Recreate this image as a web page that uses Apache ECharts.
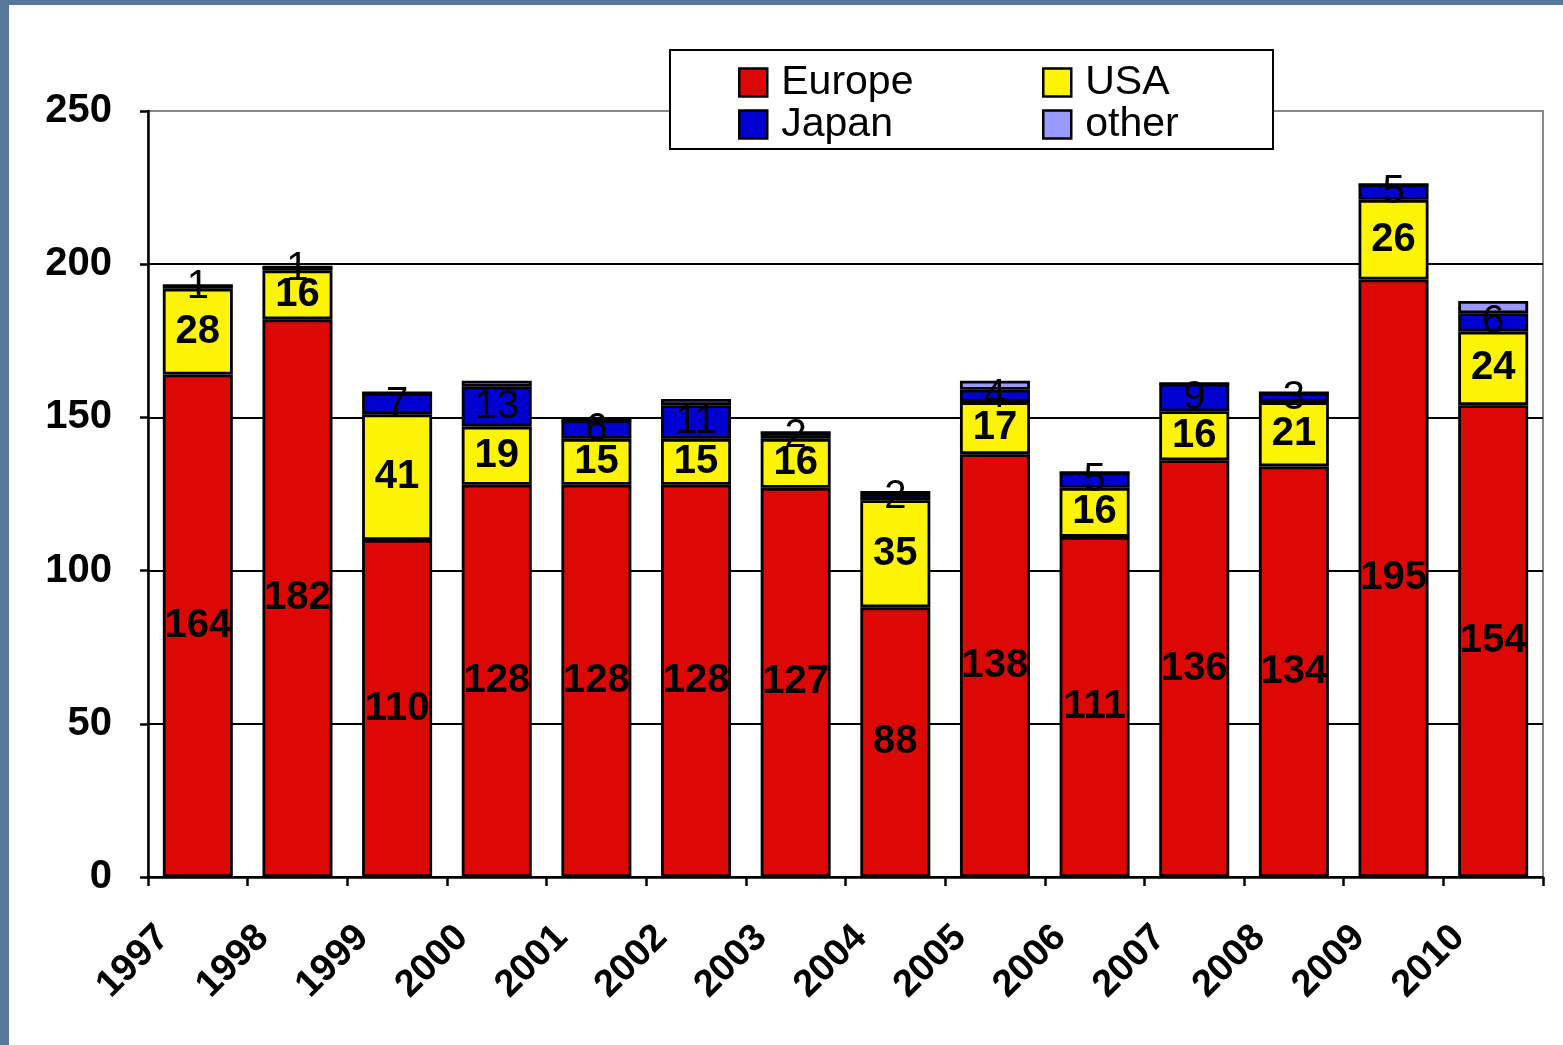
<!DOCTYPE html>
<html>
<head>
<meta charset="utf-8">
<script src="https://cdn.jsdelivr.net/npm/echarts@6/dist/echarts.min.js"></script>
<style>
  html, body { margin: 0; padding: 0; background: #57779f; }
  #paper { position: absolute; left: 9px; top: 5px; right: 0; bottom: 0; background: #fff; }
  #chart { position: absolute; left: 0; top: 0; width: 1563px; height: 1045px; }
</style>
</head>
<body>
<div id="paper"></div>
<div id="chart"></div>
<script>
// data
const years  = ['1997', '1998', '1999', '2000', '2001', '2002', '2003', '2004', '2005', '2006', '2007', '2008', '2009', '2010'];
const europe = [164, 182, 110, 128, 128, 128, 127, 88, 138, 111, 136, 134, 195, 154];
const usa    = [28, 16, 41, 19, 15, 15, 16, 35, 17, 16, 16, 21, 26, 24];
const japan  = [1, 1, 7, 13, 6, 11, 2, 2, 4, 5, 9, 3, 5, 6];
const other  = [0, 0, 0, 2, 0, 2, 0, 1, 3, 0, 0, 0, 0, 4];
const yTicks = [0, 50, 100, 150, 200, 250];

const FONT = '"Liberation Sans", Arial, sans-serif';

function barSeries(name, data, color, label) {
  return {
    name: name, type: 'bar', stack: 'total', data: data,
    barWidth: 70,
    itemStyle: { color: color, borderColor: '#000', borderWidth: 2.8 },
    label: label ? Object.assign({ show: true, position: 'inside', color: '#000', fontFamily: FONT, fontSize: 40 }, label) : { show: false }
  };
}

const chart = echarts.init(document.getElementById('chart'), null, { renderer: 'canvas' });

// two legends side by side so the columns line up like the original
const legendCommon = {
  orient: 'vertical', top: 62, padding: 0,
  itemWidth: 28, itemHeight: 28, itemGap: 1,
  icon: 'rect',
  itemStyle: { borderColor: '#000', borderWidth: 2.5 },
  textStyle: { fontFamily: FONT, fontSize: 41, color: '#000', padding: [0, 0, 0, 9] },
  z: 10
};

const option = {
  animation: false,
  backgroundColor: 'transparent',
  grid: { left: 148, right: 20, top: 111, bottom: 168, show: true, borderColor: '#888', borderWidth: 2, backgroundColor: 'transparent' },
  graphic: [{
    type: 'rect', z: 9,
    shape: { x: 670, y: 50, width: 603, height: 99 },
    style: { fill: '#fff', stroke: '#000', lineWidth: 2 }
  }],
  legend: [
    Object.assign({ left: 738, data: ['Europe', 'Japan'] }, legendCommon),
    Object.assign({ left: 1042, data: ['USA', 'other'] }, legendCommon)
  ],
  xAxis: {
    type: 'category', data: years,
    axisLine: { lineStyle: { color: '#000', width: 2.5 } },
    axisTick: { show: true, length: 9, lineStyle: { color: '#000', width: 2.5 } },
    axisLabel: {
      interval: 0, rotate: 45, margin: 20,
      padding: [0, 49, 0, 0],
      color: '#000', fontFamily: FONT, fontSize: 38, fontWeight: 'bold'
    }
  },
  yAxis: {
    type: 'value', min: yTicks[0], max: yTicks[yTicks.length - 1], interval: 50,
    axisLine: { show: true, lineStyle: { color: '#000', width: 2.5 } },
    axisTick: { show: true, length: 8, lineStyle: { color: '#000', width: 2.5 } },
    axisLabel: { margin: 36, color: '#000', fontFamily: FONT, fontSize: 40, fontWeight: 'bold' },
    splitLine: { show: true, showMaxLine: false, lineStyle: { color: '#000', width: 2 } }
  },
  series: [
    barSeries('Europe', europe, '#dc0806', { fontWeight: 'bold' }),
    barSeries('USA', usa, '#fcf305', { fontWeight: 'bold' }),
    barSeries('Japan', japan, '#0000d0', { fontWeight: 'normal' }),
    barSeries('other', other, '#9999ff', null)
  ]
};

chart.setOption(option);
</script>
</body>
</html>
